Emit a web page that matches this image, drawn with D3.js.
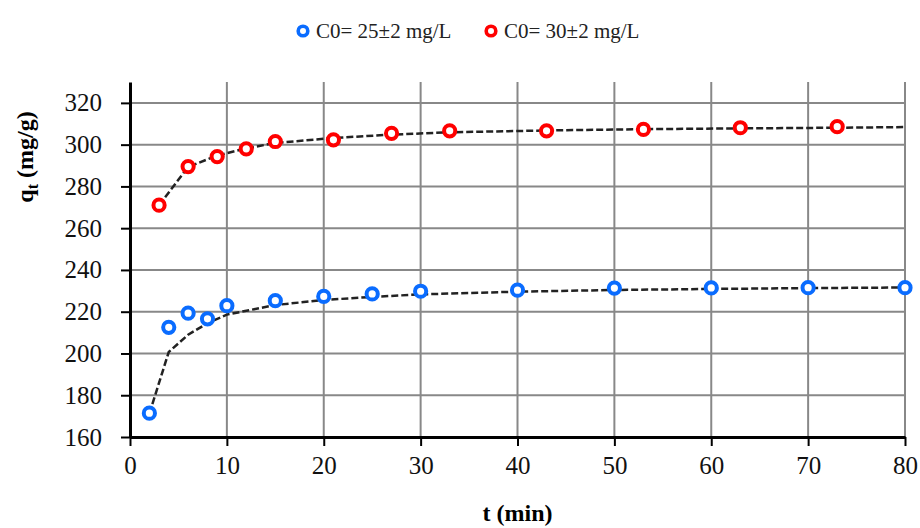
<!DOCTYPE html>
<html>
<head>
<meta charset="utf-8">
<script src="https://cdn.jsdelivr.net/npm/d3@7"></script>
<style>
  body { margin: 0; background: #fff; }
  svg { display: block; font-family: "Liberation Serif", "DejaVu Serif", serif; }
</style>
</head>
<body>
<div id="chart"></div>
<script>
// experimental points
const tBlue = [2, 4, 6, 8, 10, 15, 20, 25, 30, 40, 50, 60, 70, 80];
const qBlue = [171.4, 212.5, 219.3, 216.6, 222.9, 225.3, 227.3, 228.5, 229.8, 230.3, 231.3, 231.4, 231.5, 231.5];
const tRed = [3, 6, 9, 12, 15, 21, 27, 33, 43, 53, 63, 73];
const qRed = [271, 289.5, 294.3, 298, 301.5, 302.3, 305.4, 306.6, 306.6, 307.3, 308.1, 308.6];

// fitted (dashed) curves
const fitBlue = [171.2, 200.7, 209, 214.5, 218.6, 223.2, 225.6, 227.1, 228.3, 229.6, 230.4, 230.9, 231.3, 231.6];
const tRedFit = [3, 6, 9, 12, 15, 21, 27, 33, 43, 53, 63, 73, 80];
const fitRed = [271, 289.3, 294.8, 298.2, 300.8, 303.2, 304.8, 305.9, 306.8, 307.4, 307.8, 308.1, 308.4];

const legendLabels = ["C0= 25±2 mg/L", "C0= 30±2 mg/L"];
const xTicks = [0, 10, 20, 30, 40, 50, 60, 70, 80];
const yTicks = [160, 180, 200, 220, 240, 260, 280, 300, 320];

const width = 920, height = 528;
const margin = { top: 82, right: 15, bottom: 91, left: 130 };
const blue = "#0a6cff", red = "#ff0000";
const serif = "'Liberation Serif', 'DejaVu Serif', serif";

const svg = d3.select("#chart")
    .append("svg")
    .attr("width", width)
    .attr("height", height);

const x = d3.scaleLinear().domain([0, 80]).range([margin.left, width - margin.right]);
const y = d3.scaleLinear().domain([160, 330]).range([height - margin.bottom, margin.top]);

// grid
svg.append("g")
    .selectAll("line")
    .data(yTicks.slice(1))
    .join("line")
    .attr("x1", x(0)).attr("x2", x(80))
    .attr("y1", d => y(d)).attr("y2", d => y(d))
    .attr("stroke", "#888").attr("stroke-width", 2);
svg.append("g")
    .selectAll("line")
    .data(xTicks.slice(1))
    .join("line")
    .attr("x1", d => x(d)).attr("x2", d => x(d))
    .attr("y1", y(160)).attr("y2", y(330))
    .attr("stroke", "#888").attr("stroke-width", 2);

// axes
const xAxis = svg.append("g")
    .attr("transform", `translate(0,${y(160)})`)
    .call(d3.axisBottom(x).tickValues(xTicks).tickSize(9).tickPadding(10).tickSizeOuter(0));
const yAxis = svg.append("g")
    .attr("transform", `translate(${x(0)},0)`)
    .call(d3.axisLeft(y).tickValues(yTicks).tickSize(9).tickPadding(19).tickSizeOuter(0));
[xAxis, yAxis].forEach(a => {
    a.attr("font-family", serif).attr("font-size", 25);
    a.select(".domain").attr("stroke", "#000").attr("stroke-width", 3);
    a.selectAll(".tick line").attr("stroke", "#000").attr("stroke-width", 2);
    a.selectAll(".tick text").attr("fill", "#111");
});

// fitted curves
const line = d3.line().x(d => x(d[0])).y(d => y(d[1]));
[[tBlue, fitBlue], [tRedFit, fitRed]].forEach(([ts, qs]) => {
    svg.append("path")
        .datum(ts.map((t, i) => [t, qs[i]]))
        .attr("d", line)
        .attr("fill", "none")
        .attr("stroke", "#222")
        .attr("stroke-width", 2.5)
        .attr("stroke-dasharray", "7,3");
});

// points
[[tBlue, qBlue, blue], [tRed, qRed, red]].forEach(([ts, qs, c]) => {
    svg.append("g")
        .selectAll("circle")
        .data(ts.map((t, i) => [t, qs[i]]))
        .join("circle")
        .attr("cx", d => x(d[0]))
        .attr("cy", d => y(d[1]))
        .attr("r", 5.6)
        .attr("fill", "#fff")
        .attr("stroke", c)
        .attr("stroke-width", 4);
});

// axis titles
svg.append("text")
    .attr("x", x(40))
    .attr("y", 521)
    .attr("text-anchor", "middle")
    .attr("font-family", serif)
    .style("font-size", "24px")
    .style("font-weight", "bold")
    .text("t (min)");

const yt = svg.append("text")
    .attr("transform", "translate(33,157) rotate(-90)")
    .attr("text-anchor", "middle")
    .attr("font-family", serif)
    .style("font-size", "24px")
    .style("font-weight", "bold");
yt.append("tspan").text("q");
yt.append("tspan").attr("dy", 5).style("font-size", "16px").text("t");
yt.append("tspan").attr("dy", -5).text(" (mg/g)");

// legend
const legend = svg.append("g");
[[303, blue], [491, red]].forEach(([lx, c], i) => {
    legend.append("circle")
        .attr("cx", lx).attr("cy", 31).attr("r", 4.8)
        .attr("fill", "#fff").attr("stroke", c).attr("stroke-width", 3.6);
    legend.append("text")
        .attr("x", lx + 13).attr("y", 38)
        .attr("font-family", serif)
        .style("font-size", "21px")
        .attr("fill", "#222")
        .text(legendLabels[i]);
});
</script>
</body>
</html>
